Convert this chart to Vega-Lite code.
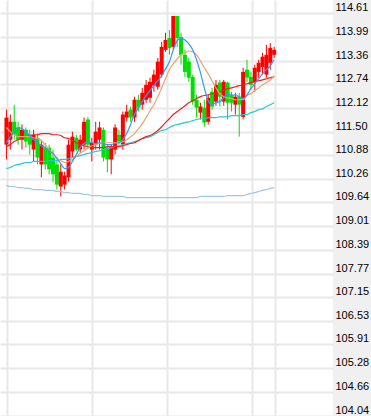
{
 "$schema": "https://vega.github.io/schema/vega-lite/v6.json",
 "width": 333, "height": 416,
 "autosize": {"type": "none"},
 "padding": {"left": 0, "top": 0, "right": 38, "bottom": 0},
 "background": "#f0f0f0",
 "config": {"view": {"stroke": null, "fill": "#ffffff"}},
 "data": {"values": [
{"i":0,"o":111.16,"c":111.87,"h":112.08,"l":110.77,"ma5":111.21,"ma10":111.61,"ma20":111.11,"ma30":110.53,"ma60":110.09},
{"i":1,"o":111.29,"c":111.76,"h":111.95,"l":111.03,"ma5":111.37,"ma10":111.50,"ma20":111.16,"ma30":110.56,"ma60":110.06},
{"i":2,"o":111.76,"c":111.42,"h":112.21,"l":111.29,"ma5":111.50,"ma10":111.42,"ma20":111.24,"ma30":110.61,"ma60":110.06},
{"i":3,"o":111.61,"c":111.29,"h":111.76,"l":111.16,"ma5":111.61,"ma10":111.37,"ma20":111.29,"ma30":110.64,"ma60":110.03},
{"i":4,"o":111.29,"c":111.55,"h":111.69,"l":111.03,"ma5":111.58,"ma10":111.37,"ma20":111.34,"ma30":110.66,"ma60":110.03},
{"i":5,"o":111.55,"c":111.24,"h":111.61,"l":111.08,"ma5":111.50,"ma10":111.37,"ma20":111.37,"ma30":110.69,"ma60":110.01},
{"i":6,"o":111.42,"c":111.16,"h":111.55,"l":110.90,"ma5":111.40,"ma10":111.37,"ma20":111.40,"ma30":110.69,"ma60":110.01},
{"i":7,"o":111.03,"c":111.42,"h":111.55,"l":110.72,"ma5":111.29,"ma10":111.34,"ma20":111.42,"ma30":110.72,"ma60":109.98},
{"i":8,"o":111.34,"c":110.82,"h":111.45,"l":110.64,"ma5":111.21,"ma10":111.32,"ma20":111.42,"ma30":110.72,"ma60":109.98},
{"i":9,"o":110.64,"c":111.16,"h":111.29,"l":110.30,"ma5":111.13,"ma10":111.27,"ma20":111.45,"ma30":110.72,"ma60":109.98},
{"i":10,"o":111.08,"c":110.64,"h":111.21,"l":110.51,"ma5":111.08,"ma10":111.16,"ma20":111.45,"ma30":110.72,"ma60":109.96},
{"i":11,"o":111.08,"c":110.51,"h":111.16,"l":110.38,"ma5":111.00,"ma10":111.03,"ma20":111.45,"ma30":110.74,"ma60":109.96},
{"i":12,"o":110.82,"c":110.38,"h":111.03,"l":110.17,"ma5":110.93,"ma10":110.90,"ma20":111.42,"ma30":110.74,"ma60":109.96},
{"i":13,"o":110.64,"c":110.11,"h":110.77,"l":109.98,"ma5":110.79,"ma10":110.82,"ma20":111.42,"ma30":110.74,"ma60":109.93},
{"i":14,"o":110.06,"c":110.45,"h":110.64,"l":109.80,"ma5":110.66,"ma10":110.74,"ma20":111.40,"ma30":110.77,"ma60":109.93},
{"i":15,"o":110.11,"c":110.35,"h":110.45,"l":109.98,"ma5":110.53,"ma10":110.69,"ma20":111.34,"ma30":110.77,"ma60":109.90},
{"i":16,"o":110.30,"c":111.16,"h":111.29,"l":110.19,"ma5":110.56,"ma10":110.72,"ma20":111.32,"ma30":110.79,"ma60":109.90},
{"i":17,"o":110.98,"c":111.37,"h":111.50,"l":110.82,"ma5":110.72,"ma10":110.77,"ma20":111.27,"ma30":110.82,"ma60":109.88},
{"i":18,"o":111.34,"c":111.03,"h":111.42,"l":110.98,"ma5":110.90,"ma10":110.85,"ma20":111.21,"ma30":110.85,"ma60":109.88},
{"i":19,"o":111.03,"c":111.29,"h":111.42,"l":110.95,"ma5":111.08,"ma10":110.93,"ma20":111.16,"ma30":110.87,"ma60":109.88},
{"i":20,"o":111.16,"c":111.76,"h":111.87,"l":111.03,"ma5":111.19,"ma10":111.00,"ma20":111.13,"ma30":110.90,"ma60":109.85},
{"i":21,"o":111.82,"c":111.16,"h":111.89,"l":111.03,"ma5":111.24,"ma10":111.08,"ma20":111.11,"ma30":110.93,"ma60":109.85},
{"i":22,"o":111.03,"c":111.21,"h":111.34,"l":110.72,"ma5":111.21,"ma10":111.13,"ma20":111.08,"ma30":110.95,"ma60":109.82},
{"i":23,"o":111.16,"c":111.50,"h":111.76,"l":111.03,"ma5":111.19,"ma10":111.16,"ma20":111.08,"ma30":110.98,"ma60":109.82},
{"i":24,"o":111.29,"c":111.61,"h":111.76,"l":111.03,"ma5":111.21,"ma10":111.19,"ma20":111.08,"ma30":111.00,"ma60":109.82},
{"i":25,"o":111.55,"c":110.82,"h":111.61,"l":110.72,"ma5":111.19,"ma10":111.21,"ma20":111.08,"ma30":111.03,"ma60":109.80},
{"i":26,"o":111.08,"c":110.77,"h":111.16,"l":110.43,"ma5":111.16,"ma10":111.21,"ma20":111.11,"ma30":111.06,"ma60":109.80},
{"i":27,"o":110.77,"c":111.08,"h":111.16,"l":110.38,"ma5":111.16,"ma10":111.21,"ma20":111.11,"ma30":111.08,"ma60":109.80},
{"i":28,"o":111.03,"c":111.61,"h":111.69,"l":110.90,"ma5":111.19,"ma10":111.21,"ma20":111.11,"ma30":111.11,"ma60":109.80},
{"i":29,"o":111.42,"c":111.24,"h":111.55,"l":111.16,"ma5":111.21,"ma10":111.21,"ma20":111.11,"ma30":111.13,"ma60":109.80},
{"i":30,"o":111.16,"c":111.95,"h":112.03,"l":111.03,"ma5":111.29,"ma10":111.24,"ma20":111.13,"ma30":111.16,"ma60":109.80},
{"i":31,"o":111.87,"c":112.03,"h":112.21,"l":111.76,"ma5":111.45,"ma10":111.29,"ma20":111.16,"ma30":111.19,"ma60":109.77},
{"i":32,"o":112.08,"c":111.87,"h":112.16,"l":111.76,"ma5":111.69,"ma10":111.37,"ma20":111.19,"ma30":111.21,"ma60":109.77},
{"i":33,"o":111.87,"c":112.34,"h":112.42,"l":111.76,"ma5":111.95,"ma10":111.45,"ma20":111.21,"ma30":111.24,"ma60":109.77},
{"i":34,"o":112.34,"c":112.13,"h":112.47,"l":112.03,"ma5":112.13,"ma10":111.58,"ma20":111.27,"ma30":111.27,"ma60":109.77},
{"i":35,"o":112.21,"c":112.52,"h":112.65,"l":112.08,"ma5":112.29,"ma10":111.71,"ma20":111.32,"ma30":111.32,"ma60":109.77},
{"i":36,"o":112.34,"c":112.73,"h":112.86,"l":112.26,"ma5":112.45,"ma10":111.87,"ma20":111.37,"ma30":111.34,"ma60":109.77},
{"i":37,"o":112.39,"c":112.81,"h":112.92,"l":112.26,"ma5":112.58,"ma10":112.05,"ma20":111.40,"ma30":111.37,"ma60":109.77},
{"i":38,"o":112.71,"c":113.00,"h":113.13,"l":112.55,"ma5":112.71,"ma10":112.21,"ma20":111.45,"ma30":111.42,"ma60":109.77},
{"i":39,"o":112.68,"c":113.34,"h":113.44,"l":112.60,"ma5":112.84,"ma10":112.42,"ma20":111.53,"ma30":111.48,"ma60":109.77},
{"i":40,"o":113.00,"c":113.73,"h":113.86,"l":112.92,"ma5":112.97,"ma10":112.65,"ma20":111.63,"ma30":111.53,"ma60":109.77},
{"i":41,"o":113.65,"c":113.91,"h":114.10,"l":113.60,"ma5":113.15,"ma10":112.89,"ma20":111.74,"ma30":111.55,"ma60":109.77},
{"i":42,"o":113.96,"c":113.70,"h":114.17,"l":113.52,"ma5":113.34,"ma10":113.13,"ma20":111.84,"ma30":111.61,"ma60":109.77},
{"i":43,"o":113.73,"c":114.54,"h":114.54,"l":113.65,"ma5":113.65,"ma10":113.28,"ma20":111.95,"ma30":111.66,"ma60":109.77},
{"i":44,"o":114.54,"c":113.96,"h":114.54,"l":113.73,"ma5":113.89,"ma10":113.41,"ma20":112.03,"ma30":111.69,"ma60":109.77},
{"i":45,"o":113.99,"c":113.52,"h":114.10,"l":113.26,"ma5":113.96,"ma10":113.52,"ma20":112.10,"ma30":111.71,"ma60":109.77},
{"i":46,"o":113.52,"c":113.07,"h":113.65,"l":112.94,"ma5":113.91,"ma10":113.57,"ma20":112.18,"ma30":111.74,"ma60":109.77},
{"i":47,"o":113.34,"c":112.92,"h":113.44,"l":112.81,"ma5":113.81,"ma10":113.62,"ma20":112.26,"ma30":111.76,"ma60":109.77},
{"i":48,"o":112.94,"c":112.29,"h":113.00,"l":112.21,"ma5":113.65,"ma10":113.60,"ma20":112.31,"ma30":111.79,"ma60":109.77},
{"i":49,"o":112.34,"c":112.13,"h":112.47,"l":111.87,"ma5":113.39,"ma10":113.52,"ma20":112.37,"ma30":111.82,"ma60":109.77},
{"i":50,"o":112.00,"c":112.16,"h":112.26,"l":111.82,"ma5":113.05,"ma10":113.36,"ma20":112.42,"ma30":111.84,"ma60":109.80},
{"i":51,"o":112.13,"c":111.74,"h":112.34,"l":111.63,"ma5":112.65,"ma10":113.18,"ma20":112.45,"ma30":111.84,"ma60":109.80},
{"i":52,"o":111.76,"c":112.39,"h":112.47,"l":111.69,"ma5":112.31,"ma10":113.02,"ma20":112.47,"ma30":111.87,"ma60":109.80},
{"i":53,"o":112.55,"c":112.16,"h":112.65,"l":112.08,"ma5":112.21,"ma10":112.84,"ma20":112.50,"ma30":111.87,"ma60":109.80},
{"i":54,"o":112.29,"c":112.73,"h":112.86,"l":112.18,"ma5":112.26,"ma10":112.65,"ma20":112.52,"ma30":111.87,"ma60":109.80},
{"i":55,"o":112.79,"c":112.42,"h":112.86,"l":112.16,"ma5":112.29,"ma10":112.50,"ma20":112.55,"ma30":111.89,"ma60":109.80},
{"i":56,"o":112.29,"c":112.81,"h":112.86,"l":112.18,"ma5":112.39,"ma10":112.42,"ma20":112.58,"ma30":111.89,"ma60":109.80},
{"i":57,"o":112.79,"c":112.26,"h":112.81,"l":111.82,"ma5":112.50,"ma10":112.39,"ma20":112.63,"ma30":111.89,"ma60":109.82},
{"i":58,"o":112.47,"c":112.26,"h":112.55,"l":112.03,"ma5":112.45,"ma10":112.37,"ma20":112.65,"ma30":111.92,"ma60":109.82},
{"i":59,"o":112.21,"c":112.42,"h":112.52,"l":111.95,"ma5":112.47,"ma10":112.34,"ma20":112.68,"ma30":111.92,"ma60":109.82},
{"i":60,"o":112.42,"c":112.21,"h":112.52,"l":111.37,"ma5":112.42,"ma10":112.34,"ma20":112.71,"ma30":111.92,"ma60":109.82},
{"i":61,"o":111.89,"c":113.07,"h":113.18,"l":111.82,"ma5":112.37,"ma10":112.34,"ma20":112.73,"ma30":111.95,"ma60":109.82},
{"i":62,"o":113.13,"c":112.92,"h":113.39,"l":112.81,"ma5":112.47,"ma10":112.45,"ma20":112.76,"ma30":111.95,"ma60":109.85},
{"i":63,"o":112.94,"c":112.73,"h":113.07,"l":112.60,"ma5":112.63,"ma10":112.50,"ma20":112.79,"ma30":112.00,"ma60":109.88},
{"i":64,"o":112.81,"c":113.18,"h":113.26,"l":112.55,"ma5":112.76,"ma10":112.58,"ma20":112.81,"ma30":112.03,"ma60":109.90},
{"i":65,"o":113.07,"c":113.31,"h":113.39,"l":112.92,"ma5":112.89,"ma10":112.65,"ma20":112.84,"ma30":112.08,"ma60":109.93},
{"i":66,"o":113.20,"c":113.47,"h":113.57,"l":113.00,"ma5":113.02,"ma10":112.73,"ma20":112.86,"ma30":112.10,"ma60":109.96},
{"i":67,"o":113.00,"c":113.52,"h":113.78,"l":112.92,"ma5":113.13,"ma10":112.79,"ma20":112.89,"ma30":112.16,"ma60":109.98},
{"i":68,"o":113.31,"c":113.70,"h":113.83,"l":113.13,"ma5":113.23,"ma10":112.86,"ma20":112.92,"ma30":112.21,"ma60":110.01},
{"i":69,"o":113.52,"c":113.65,"h":113.73,"l":113.44,"ma5":113.39,"ma10":112.97,"ma20":112.94,"ma30":112.26,"ma60":110.03}
 ]},
 "encoding": {
  "x": {"field": "i", "type": "quantitative", "title": null,
        "scale": {"domain": [-0.375, 82.875], "nice": false, "zero": false},
        "axis": {"values": [0.125, 22.125, 41.375, 63.375, 69.125], "labels": false, "ticks": false, "domain": false, "grid": true, "gridColor": "#e8e8e8", "gridWidth": 2, "title": null}}
 },
 "resolve": {"scale": {"y": "shared"}, "axis": {"y": "independent"}},
 "layer": [
  {"mark": {"type": "rule", "strokeWidth": 1},
   "encoding": {
    "y": {"field": "l", "type": "quantitative", "title": null,
          "scale": {"domain": [104.03, 114.96], "nice": false, "zero": false},
          "axis": {"orient": "right", "title": null, "zindex": 0,
                   "values": [104.04,104.66,105.28,105.91,106.53,107.15,107.77,108.39,109.01,109.64,110.26,110.88,111.50,112.12,112.74,113.36,113.99,114.61],
                   "labels": false, "ticks": false, "domain": false, "grid": true, "gridColor": "#e8e8e8", "gridWidth": 2}},
    "y2": {"field": "h"},
    "color": {"condition": {"test": "datum.c >= datum.o", "value": "#ff0000"}, "value": "#00e000"}
   }},
  {"mark": {"type": "bar", "size": 4},
   "encoding": {
    "y": {"field": "o", "type": "quantitative", "title": null,
          "axis": {"orient": "right", "title": null, "zindex": 1,
                   "values": [104.04,104.66,105.28,105.91,106.53,107.15,107.77,108.39,109.01,109.64,110.26,110.88,111.50,112.12,112.74,113.36,113.99,114.61],
                   "format": ".2f", "labelFont": "Liberation Sans", "labelFontSize": 11, "labelColor": "#000000",
                   "labelPadding": 2, "labelAlign": "left", "labelBaseline": "alphabetic", "labelOffset": -2.5,
                   "ticks": false, "domain": false, "grid": false,
                   "labelOverlap": false, "labelFlush": false, "labelBound": false}},
    "y2": {"field": "c"},
    "color": {"condition": {"test": "datum.c >= datum.o", "value": "#ff0000"}, "value": "#00e000"}
   }},
  {"mark": {"type": "line", "color": "#9cc8e4", "strokeWidth": 1.2, "interpolate": "monotone"},
   "encoding": {"y": {"field": "ma60", "type": "quantitative", "title": null, "axis": null}}},
  {"mark": {"type": "line", "color": "#22c8d4", "strokeWidth": 1.2, "interpolate": "monotone"},
   "encoding": {"y": {"field": "ma30", "type": "quantitative", "title": null, "axis": null}}},
  {"mark": {"type": "line", "color": "#ee2222", "strokeWidth": 1.2, "interpolate": "monotone"},
   "encoding": {"y": {"field": "ma20", "type": "quantitative", "title": null, "axis": null}}},
  {"mark": {"type": "line", "color": "#e8a474", "strokeWidth": 1.2, "interpolate": "monotone"},
   "encoding": {"y": {"field": "ma10", "type": "quantitative", "title": null, "axis": null}}},
  {"mark": {"type": "line", "color": "#3399ff", "strokeWidth": 1.2, "interpolate": "monotone"},
   "encoding": {"y": {"field": "ma5", "type": "quantitative", "title": null, "axis": null}}}
 ]
}
